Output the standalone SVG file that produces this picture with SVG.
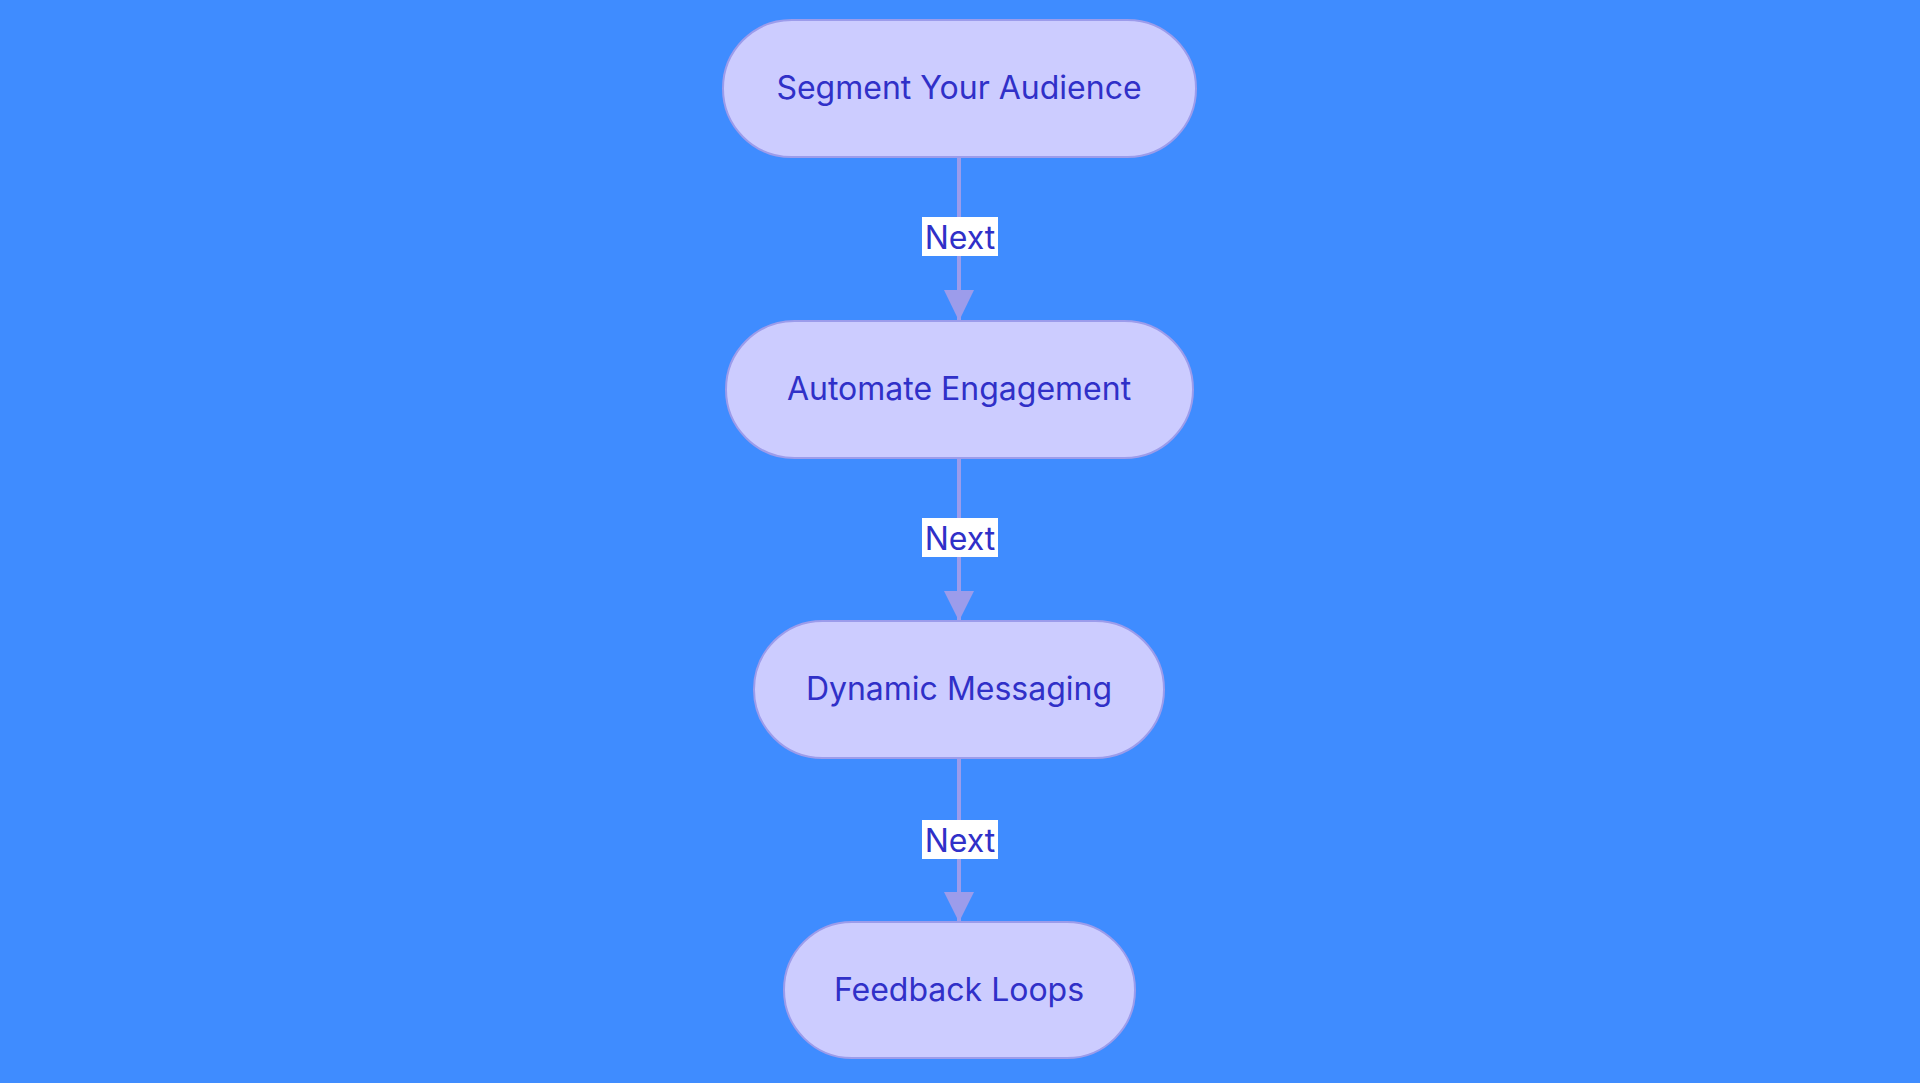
<svg xmlns="http://www.w3.org/2000/svg" width="1920" height="1083" viewBox="0 0 1920 1083">
<defs>
<style>
.n rect{fill:#CCCCFF;stroke:#9C9CEB;stroke-width:2}
.n text,.l text{font-family:Inter,"Liberation Sans",sans-serif;font-size:32px;fill:#3030C8;text-anchor:middle;dominant-baseline:central}
.e{stroke:#9C9CEB;stroke-width:4;fill:none;marker-end:url(#a)}
.l rect{fill:#FFFFFF}
</style>
<marker id="a" markerWidth="10" markerHeight="10" refX="10" refY="5" orient="auto" markerUnits="userSpaceOnUse" viewBox="0 0 10 10">
<path d="M0,0L10,5L0,10z" fill="#9C9CEB"/>
</marker>
</defs>
<rect width="1920" height="1083" fill="#3F8CFF"/>
<g id="connectors">
<line class="e" x1="959" y1="157" x2="959" y2="321" style="marker-end:none"/>
<path d="M944,290L974,290L959,321z" fill="#9C9CEB"/>
<line class="e" x1="959" y1="458" x2="959" y2="621" style="marker-end:none"/>
<path d="M944,591L974,591L959,621z" fill="#9C9CEB"/>
<line class="e" x1="959" y1="758" x2="959" y2="922" style="marker-end:none"/>
<path d="M944,892L974,892L959,922z" fill="#9C9CEB"/>
<g class="l"><rect x="922" y="217" width="76" height="39"/><text x="960" y="237">Next</text></g>
<g class="l"><rect x="922" y="518" width="76" height="39"/><text x="960" y="538">Next</text></g>
<g class="l"><rect x="922" y="820" width="76" height="39"/><text x="960" y="840">Next</text></g>
</g>
<g id="n1" class="n"><rect x="723" y="20" width="473" height="137" rx="68.5"/><text x="959" y="87">Segment Your Audience</text></g>
<g id="n2" class="n"><rect x="726" y="321" width="467" height="137" rx="68.5"/><text x="959" y="388">Automate Engagement</text></g>
<g id="n3" class="n"><rect x="754" y="621" width="410" height="137" rx="68.5"/><text x="959" y="688">Dynamic Messaging</text></g>
<g id="n4" class="n"><rect x="784" y="922" width="351" height="136" rx="68"/><text x="959" y="989">Feedback Loops</text></g>
</svg>
